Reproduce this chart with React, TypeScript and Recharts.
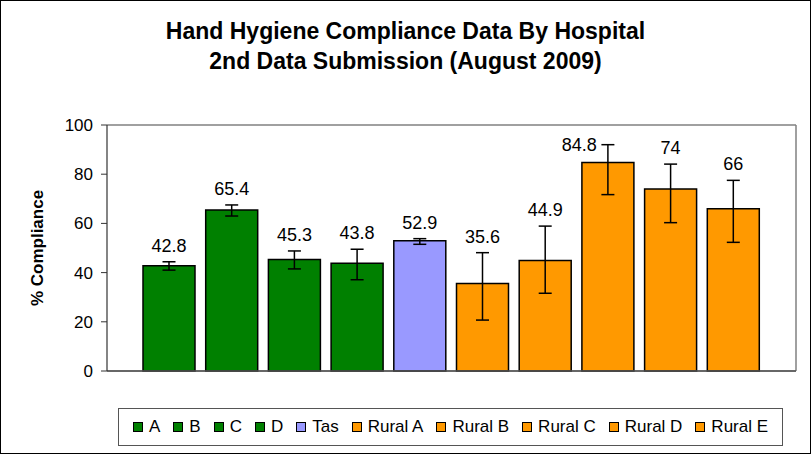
import React from 'react';
import { BarChart, Bar, XAxis, YAxis, Cell, ErrorBar, LabelList, Legend, CartesianGrid } from 'recharts';

const hospitals = ['A', 'B', 'C', 'D', 'Tas', 'Rural A', 'Rural B', 'Rural C', 'Rural D', 'Rural E'];
const compliance = [42.8, 65.4, 45.3, 43.8, 52.9, 35.6, 44.9, 84.8, 74, 66];
const errorMinus = [1.8, 2.4, 3.8, 6.7, 1.4, 14.9, 13.3, 13.1, 13.7, 13.7];
const errorPlus = [1.6, 2.1, 3.5, 5.7, 0.9, 12.5, 14.0, 7.2, 10.1, 11.5];
const groups = ['metro', 'metro', 'metro', 'metro', 'state', 'rural', 'rural', 'rural', 'rural', 'rural'];
const yTicks = [0, 20, 40, 60, 80, 100];

const groupColors: Record<string, string> = {
  metro: '#008000',
  state: '#9999FF',
  rural: '#FF9900',
};

const data = hospitals.map((name, i) => ({
  name,
  value: compliance[i],
  err: [errorMinus[i], errorPlus[i]],
  color: groupColors[groups[i]],
}));

const FONT = '"Liberation Sans", Arial, Helvetica, sans-serif';

const renderValueLabel = (props: any) => {
  const vb = props.viewBox || {};
  const x = props.x ?? vb.x;
  const y = props.y ?? vb.y;
  const width = props.width ?? vb.width;
  const height = props.height ?? vb.height;
  const { value, index } = props;
  const pxPerUnit = height / value;
  const bottom = y + height;
  const plotTop = bottom - 100 * pxPerUnit;
  const errTop = y - errorPlus[index] * pxPerUnit;
  const cx = x + width / 2;
  let tx = cx;
  let ty = errTop - 16;
  let anchor: 'middle' | 'end' = 'middle';
  if (ty - 9 < plotTop + 4) {
    tx = cx - 11;
    ty = errTop;
    anchor = 'end';
  }
  return (
    <text
      x={tx}
      y={ty}
      textAnchor={anchor}
      dominantBaseline="central"
      fontSize={18}
      fontFamily={FONT}
      fill="#000"
    >
      {value}
    </text>
  );
};

const renderLegend = () => (
  <div
    style={{
      boxSizing: 'border-box',
      width: 665,
      height: 38,
      border: '1px solid #555',
      background: '#fff',
      display: 'flex',
      alignItems: 'center',
      justifyContent: 'center',
      gap: 13,
      fontFamily: FONT,
      fontSize: 17,
      color: '#000',
      whiteSpace: 'nowrap',
    }}
  >
    {data.map((d) => (
      <div key={d.name} style={{ display: 'flex', alignItems: 'center', gap: 6 }}>
        <span
          style={{
            display: 'inline-block',
            boxSizing: 'border-box',
            width: 10,
            height: 10,
            background: d.color,
            border: '1px solid #000',
          }}
        />
        <span>{d.name}</span>
      </div>
    ))}
  </div>
);

const renderYLabel = (props: any) => {
  const vb = props.viewBox || {};
  const cx = vb.x - 9.5;
  const cy = vb.y + vb.height / 2;
  return (
    <text
      x={cx}
      y={cy}
      transform={`rotate(-90, ${cx}, ${cy})`}
      textAnchor="middle"
      dominantBaseline="central"
      fontSize={17}
      fontWeight="bold"
      fontFamily={FONT}
      fill="#000"
    >
      % Compliance
    </text>
  );
};

const frameHorizontal = ({ offset }: any) => [offset.top, offset.top + offset.height];
const frameVertical = ({ offset }: any) => [offset.left + offset.width];

export default function App() {
  return (
    <div style={{ position: 'absolute', left: 0, top: 0, width: 811, height: 454, background: '#fff', fontFamily: FONT }}>
      <div
        style={{
          position: 'absolute',
          left: 0,
          top: 16,
          width: 811,
          textAlign: 'center',
          fontSize: 23,
          fontWeight: 'bold',
          lineHeight: '30px',
          color: '#000',
        }}
      >
        <div>Hand Hygiene Compliance Data By Hospital</div>
        <div>2nd Data Submission (August 2009)</div>
      </div>
      <div style={{ position: 'absolute', left: 0, top: 0 }}>
        <BarChart
          width={811}
          height={454}
          data={data}
          margin={{ top: 125, right: 15, left: 47, bottom: 44 }}
        >
          <CartesianGrid
            stroke="#808080"
            strokeWidth={1.5}
            horizontalCoordinatesGenerator={frameHorizontal}
            verticalCoordinatesGenerator={frameVertical}
          />
          <XAxis
            dataKey="name"
            tick={false}
            tickLine={false}
            height={1}
            axisLine={{ stroke: '#555', strokeWidth: 1.5 }}
            padding={{ left: 31, right: 31 }}
          />
          <YAxis
            domain={[0, 100]}
            ticks={yTicks}
            width={60}
            tickSize={6}
            tickMargin={8}
            axisLine={{ stroke: '#333', strokeWidth: 1.2 }}
            tickLine={{ stroke: '#333' }}
            tick={{ fill: '#000', fontSize: 17, fontFamily: FONT }}
            label={{ content: renderYLabel }}
          />
          <Legend
            verticalAlign="bottom"
            content={renderLegend}
            wrapperStyle={{ left: 118, top: 408, bottom: 'auto', width: 665, height: 38 }}
          />
          <Bar dataKey="value" barSize={52} stroke="#000" strokeWidth={1.5} isAnimationActive={false}>
            {data.map((d) => (
              <Cell key={d.name} fill={d.color} />
            ))}
            <ErrorBar dataKey="err" width={6.5} stroke="#000" strokeWidth={1.5} direction="y" />
            <LabelList dataKey="value" content={renderValueLabel} />
          </Bar>
        </BarChart>
      </div>
      <div
        style={{
          position: 'absolute',
          left: 0,
          top: 0,
          width: 811,
          height: 454,
          boxSizing: 'border-box',
          border: '1px solid #000',
          pointerEvents: 'none',
        }}
      />
    </div>
  );
}
